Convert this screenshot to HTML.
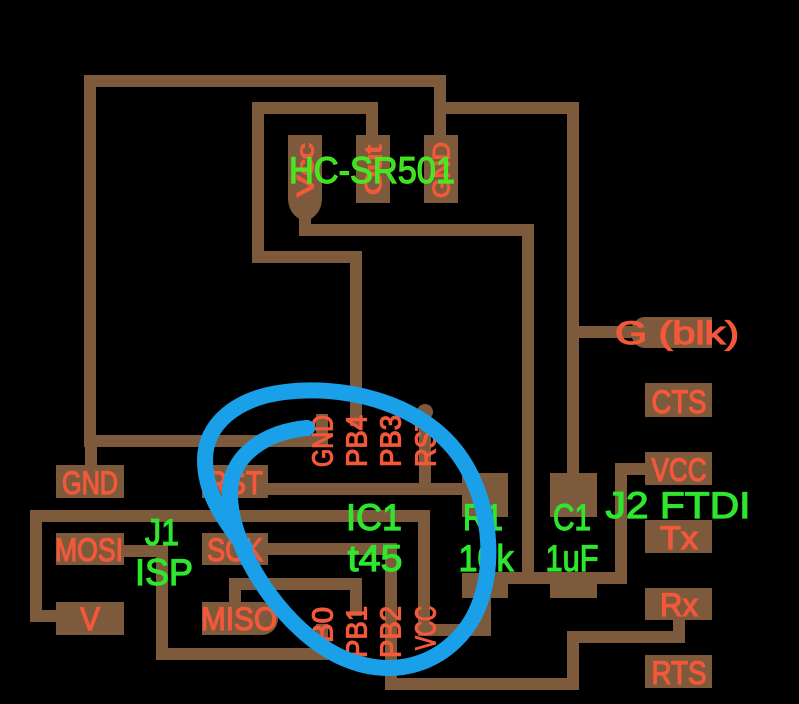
<!DOCTYPE html>
<html><head><meta charset="utf-8"><style>
html,body{margin:0;padding:0;background:#000;}
svg{display:block;}
text{font-family:"Liberation Sans",sans-serif;}
</style></head><body>
<svg width="799" height="704" viewBox="0 0 799 704" xmlns="http://www.w3.org/2000/svg">
<rect width="799" height="704" fill="#000"/>
<g fill="none" stroke="#7e5a3c" stroke-width="12" stroke-linecap="square" stroke-linejoin="miter">
<path d="M90,441 V81 H440 V140"/>
<path d="M440,108 H573 V480"/>
<path d="M573,332 H640"/>
<path d="M372,140 V108 H258 V257 H356 V420"/>
<path d="M305,215 V230 H528 V578"/>
<path d="M91,470 V441 H322 V420"/>
<path d="M268,489 H480"/>
<path d="M425,412 V489"/>
<path d="M60,616 H36 V516 H424 V630 H485 V590"/>
<path d="M268,549 H391 V684 H573 V637 H679 V615"/>
<path d="M235,605 V584 H356 V610"/>
<path d="M120,551 H162 V654 H322 V630"/>
<path d="M500,578 H621 V469 H650"/>
</g>
<g fill="#7e5a3c">
<path d="M288,135 H322 V198 Q322,215 305,222 Q288,215 288,198 Z"/>
<rect x="356" y="135" width="34" height="68"/>
<rect x="424" y="135" width="34" height="68"/>
<path d="M712,317 H645 A14,15.5 0 0 0 645,348 H712 Z"/>
<rect x="645" y="383" width="67" height="34"/>
<rect x="645" y="452" width="67" height="33"/>
<rect x="645" y="520" width="67" height="33"/>
<rect x="645" y="588" width="67" height="32"/>
<rect x="645" y="655" width="67" height="33"/>
<rect x="56" y="465" width="68" height="33"/>
<rect x="202" y="465" width="66" height="33"/>
<rect x="56" y="533" width="68" height="32"/>
<rect x="202" y="533" width="66" height="32"/>
<rect x="56" y="602" width="68" height="33"/>
<path d="M202,602 H262 A16,16.5 0 0 1 262,635 H202 Z"/>
<rect x="462" y="473" width="46" height="44"/>
<rect x="462" y="573" width="46" height="25"/>
<rect x="550" y="473" width="47" height="44"/>
<rect x="550" y="572" width="47" height="26"/>
<circle cx="425" cy="412" r="8"/>
</g>
<g fill="#f4583a" stroke="#f4583a" stroke-width="1.2" font-size="32">
<text x="305" y="170" font-size="24" transform="rotate(-90 305 170)" text-anchor="middle" dy="8.5" textLength="54" lengthAdjust="spacingAndGlyphs">Vcc</text>
<text x="373" y="170" font-size="24" transform="rotate(-90 373 170)" text-anchor="middle" dy="8.5" textLength="50" lengthAdjust="spacingAndGlyphs">Out</text>
<text x="441" y="170" font-size="24" transform="rotate(-90 441 170)" text-anchor="middle" dy="8.5" textLength="56" lengthAdjust="spacingAndGlyphs">GND</text>
<text x="677" y="344" text-anchor="middle" textLength="124" lengthAdjust="spacingAndGlyphs">G (blk)</text>
<text x="679" y="413" text-anchor="middle" textLength="55" lengthAdjust="spacingAndGlyphs">CTS</text>
<text x="679" y="481" text-anchor="middle" textLength="55" lengthAdjust="spacingAndGlyphs">VCC</text>
<text x="679" y="549" text-anchor="middle" textLength="38" lengthAdjust="spacingAndGlyphs">Tx</text>
<text x="679" y="616" text-anchor="middle" textLength="38" lengthAdjust="spacingAndGlyphs">Rx</text>
<text x="679" y="684" text-anchor="middle" textLength="55" lengthAdjust="spacingAndGlyphs">RTS</text>
<text x="90" y="494" text-anchor="middle" textLength="56" lengthAdjust="spacingAndGlyphs">GND</text>
<text x="235" y="494" text-anchor="middle" textLength="56" lengthAdjust="spacingAndGlyphs">RST</text>
<text x="89" y="561" text-anchor="middle" textLength="68" lengthAdjust="spacingAndGlyphs">MOSI</text>
<text x="235" y="561" text-anchor="middle" textLength="56" lengthAdjust="spacingAndGlyphs">SCK</text>
<text x="90" y="630" text-anchor="middle" textLength="20" lengthAdjust="spacingAndGlyphs">V</text>
<text x="239" y="630" text-anchor="middle" textLength="76" lengthAdjust="spacingAndGlyphs">MISO</text>
<g font-size="29">
<text x="322" y="441" transform="rotate(-90 322 441)" text-anchor="middle" dy="10.5" textLength="52" lengthAdjust="spacingAndGlyphs">GND</text>
<text x="356" y="441" transform="rotate(-90 356 441)" text-anchor="middle" dy="10.5" textLength="52" lengthAdjust="spacingAndGlyphs">PB4</text>
<text x="390" y="441" transform="rotate(-90 390 441)" text-anchor="middle" dy="10.5" textLength="52" lengthAdjust="spacingAndGlyphs">PB3</text>
<text x="425" y="441" transform="rotate(-90 425 441)" text-anchor="middle" dy="10.5" textLength="52" lengthAdjust="spacingAndGlyphs">RST</text>
<text x="322" y="625" transform="rotate(-90 322 625)" text-anchor="middle" dy="10.5" textLength="36" lengthAdjust="spacingAndGlyphs">B0</text>
<text x="356" y="632" transform="rotate(-90 356 632)" text-anchor="middle" dy="10.5" textLength="52" lengthAdjust="spacingAndGlyphs">PB1</text>
<text x="390" y="632" transform="rotate(-90 390 632)" text-anchor="middle" dy="10.5" textLength="52" lengthAdjust="spacingAndGlyphs">PB2</text>
<text x="425" y="628" transform="rotate(-90 425 628)" text-anchor="middle" dy="10.5" textLength="44" lengthAdjust="spacingAndGlyphs">VCC</text>
</g>
</g>
<g fill="#2ee62e" stroke="#2ee62e" stroke-width="1.2" font-size="37">
<text x="372" y="183" fill="#44ee22" stroke="#44ee22" fill-opacity="0.92" text-anchor="middle" textLength="166" lengthAdjust="spacingAndGlyphs">HC-SR501</text>
<text x="162" y="545" text-anchor="middle" textLength="34" lengthAdjust="spacingAndGlyphs">J1</text>
<text x="164" y="585" text-anchor="middle" textLength="58" lengthAdjust="spacingAndGlyphs">ISP</text>
<text x="374" y="530" text-anchor="middle" textLength="56" lengthAdjust="spacingAndGlyphs">IC1</text>
<text x="375" y="571" text-anchor="middle" textLength="55" lengthAdjust="spacingAndGlyphs">t45</text>
<text x="483" y="530" text-anchor="middle" textLength="40" lengthAdjust="spacingAndGlyphs">R1</text>
<text x="486" y="571" text-anchor="middle" textLength="55" lengthAdjust="spacingAndGlyphs">10k</text>
<text x="572" y="530" text-anchor="middle" textLength="38" lengthAdjust="spacingAndGlyphs">C1</text>
<text x="572" y="571" text-anchor="middle" textLength="53" lengthAdjust="spacingAndGlyphs">1uF</text>
<text x="678" y="518" text-anchor="middle" textLength="145" lengthAdjust="spacingAndGlyphs">J2 FTDI</text>
</g>
<path d="M307,428 C265,432 232,455 230,490 C228,540 270,610 320,645 C370,680 430,675 465,630 C500,585 495,500 455,450 C415,400 340,385 285,392 C235,398 205,425 205,460 C205,495 225,520 245,548" fill="none" stroke="#1aa0e8" stroke-width="16" stroke-linecap="round"/>
</svg>
</body></html>
